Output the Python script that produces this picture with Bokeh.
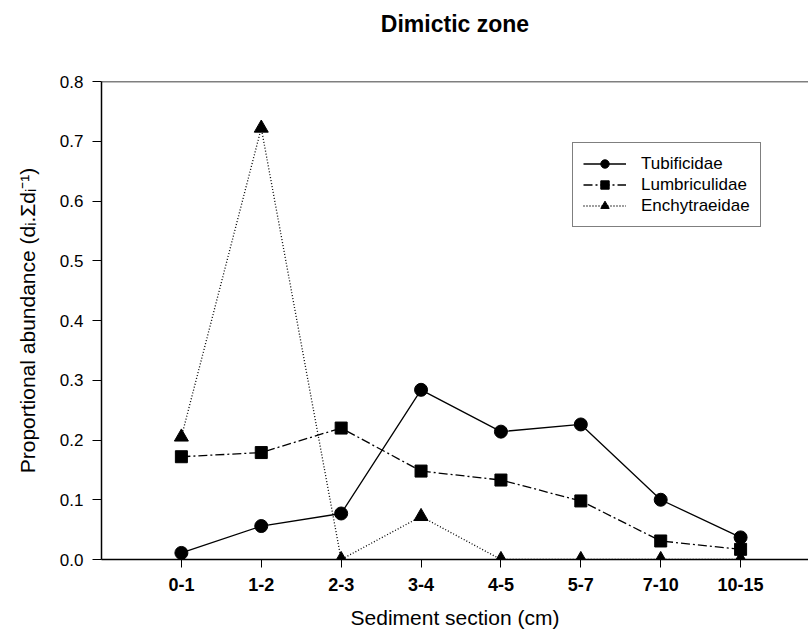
from bokeh.plotting import figure
from bokeh.models import Span, Legend, LegendItem, FixedTicker, Range1d, Title
from bokeh.embed import file_html
from bokeh.resources import INLINE

sections = ["0-1", "1-2", "2-3", "3-4", "4-5", "5-7", "7-10", "10-15"]
tubificidae = [0.011, 0.056, 0.077, 0.284, 0.214, 0.226, 0.100, 0.037]
lumbriculidae = [0.172, 0.179, 0.220, 0.148, 0.133, 0.098, 0.031, 0.017]
enchytraeidae = [0.205, 0.722, 0.0, 0.072, 0.0, 0.0, 0.0, 0.0]
y_ticks = [0.0, 0.1, 0.2, 0.3, 0.4, 0.5, 0.6, 0.7, 0.8]

FONT = "Liberation Sans"
xs = list(range(len(sections)))

p = figure(width=808, height=636, output_backend="svg", toolbar_location=None,
           x_range=Range1d(-1, 7.85), y_range=Range1d(0, 0.8),
           min_border_left=101, min_border_right=0, min_border_top=81,
           min_border_bottom=77)
p.outline_line_color = None
p.grid.visible = False
p.background_fill_color = "white"
p.border_fill_color = "white"

p.title.text = "Dimictic zone"
p.title.text_font = FONT
p.title.text_font_size = "23px"
p.title.text_font_style = "bold"
p.title.text_color = "black"
p.title.align = "center"
p.title.offset = 7
# spacer between title and frame
p.add_layout(Title(text=" ", text_font_size="25px"), "above")

# x axis
xa = p.xaxis[0]
xa.ticker = FixedTicker(ticks=xs)
xa.major_label_overrides = {i: s for i, s in enumerate(sections)}
xa.major_label_text_font = FONT
xa.major_label_text_font_size = "18px"
xa.major_label_text_font_style = "bold"
xa.major_label_text_color = "black"
xa.major_tick_out = 8
xa.major_tick_in = 0
xa.minor_tick_out = 0
xa.minor_tick_in = 0
xa.major_label_standoff = 10
xa.axis_label = "Sediment section (cm)"
xa.axis_label_text_font = FONT
xa.axis_label_text_font_size = "21px"
xa.axis_label_text_font_style = "normal"
xa.axis_label_text_color = "black"
xa.axis_label_standoff = 12
xa.axis_line_width = 1.5

ya = p.yaxis[0]
ya.ticker = FixedTicker(ticks=y_ticks)
ya.major_label_overrides = {t: f"{t:.1f}" for t in y_ticks}
ya.major_label_text_font = FONT
ya.major_label_text_font_size = "17px"
ya.major_label_text_color = "black"
ya.major_tick_out = 9
ya.major_tick_in = 0
ya.minor_tick_out = 0
ya.minor_tick_in = 0
ya.major_label_standoff = 9
ya.axis_label = "Proportional abundance (dᵢ.Σdᵢ⁻¹)"
ya.axis_label_text_font = FONT
ya.axis_label_text_font_size = "21px"
ya.axis_label_text_font_style = "normal"
ya.axis_label_text_color = "black"
ya.axis_label_standoff = 18
ya.axis_line_width = 1.5

p.add_layout(Span(location=0.8, dimension="width", line_color="black", line_width=1.5))

lw = 1.3
r1l = p.line(xs, tubificidae, line_color="black", line_width=lw)
r1m = p.scatter(xs, tubificidae, marker="circle", size=13, fill_color="black", line_color="black")
r2l = p.line(xs, lumbriculidae, line_color="black", line_width=lw, line_dash="9 3 2 3")
r2m = p.scatter(xs, lumbriculidae, marker="square", size=12, fill_color="black", line_color="black")
r3l = p.line(xs, enchytraeidae, line_color="black", line_width=lw, line_dash="1 2")
r3m = p.scatter(xs, enchytraeidae, marker="triangle", size=14, fill_color="black", line_color="black")

legend = Legend(items=[
    LegendItem(label="Tubificidae", renderers=[r1l, r1m]),
    LegendItem(label="Lumbriculidae", renderers=[r2l, r2m]),
    LegendItem(label="Enchytraeidae", renderers=[r3l, r3m]),
], location=(471, 332))
legend.label_text_font = FONT
legend.label_text_font_size = "17px"
legend.label_text_color = "black"
legend.glyph_width = 43
legend.glyph_height = 21
legend.label_height = 21
legend.label_standoff = 15
legend.spacing = 0
legend.padding = 10
legend.margin = 0
legend.border_line_color = "black"
legend.border_line_width = 1.2
legend.background_fill_alpha = 1
p.add_layout(legend)

open("out.html", "w").write(file_html(p, INLINE))
